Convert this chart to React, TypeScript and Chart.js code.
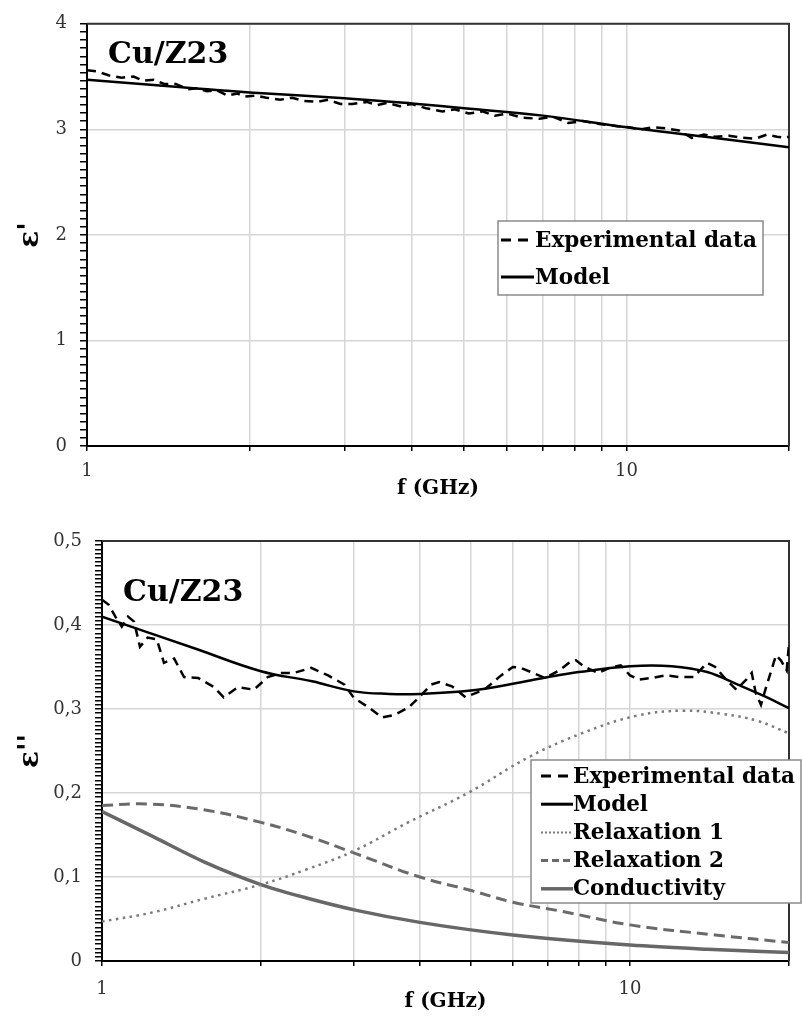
import React, { useEffect, useRef } from 'react';
import { Chart, registerables } from 'chart.js';

Chart.register(...registerables);

// ---------- DATA ----------
const PANEL_LABEL = 'Cu/Z23';
const X_TITLE = 'f (GHz)';
const X_TICK_VALUES = [1, 2, 3, 4, 5, 6, 7, 8, 9, 10, 20];
const X_TICK_LABELS: Record<number, string> = { 1: '1', 10: '10' };

// Top panel: epsilon'
const TOP_Y_LABELS = ['0', '1', '2', '3', '4'];
const TOP_MODEL_F = [1, 1.5, 2, 3, 4, 5, 7, 10, 14, 20];
const TOP_MODEL = [3.47, 3.40, 3.35, 3.295, 3.245, 3.20, 3.13, 3.02, 2.93, 2.83];
const TOP_EXP_F = [1.0, 1.04, 1.1, 1.16, 1.22, 1.27, 1.33, 1.39, 1.46, 1.54, 1.6, 1.67, 1.74, 1.82, 1.9, 1.95,
  2.05, 2.15, 2.28, 2.4, 2.52, 2.67, 2.8, 2.95, 3.1, 3.3, 3.45, 3.6, 3.8, 4.0, 4.25, 4.56, 4.8, 5.1, 5.4, 5.7,
  6.0, 6.4, 6.9, 7.3, 7.8, 8.3, 8.9, 9.6, 10.1, 10.6, 11.2, 11.8, 12.5, 13.2, 13.9, 14.6, 15.5, 16.4, 17.3,
  18.2, 19.0, 19.7, 20];
const TOP_EXP = [3.56, 3.55, 3.51, 3.49, 3.50, 3.46, 3.47, 3.43, 3.43, 3.38, 3.39, 3.36, 3.37, 3.32, 3.34, 3.31,
  3.32, 3.30, 3.28, 3.30, 3.27, 3.26, 3.28, 3.24, 3.24, 3.26, 3.23, 3.25, 3.22, 3.24, 3.20, 3.17, 3.19, 3.15, 3.17, 3.13,
  3.15, 3.11, 3.10, 3.12, 3.06, 3.08, 3.05, 3.03, 3.02, 3.00, 3.02, 3.01, 2.99, 2.92, 2.95, 2.93, 2.94, 2.92, 2.91,
  2.95, 2.93, 2.92, 2.93];

// Bottom panel: epsilon''
const BOT_Y_LABELS = ['0', '0,1', '0,2', '0,3', '0,4', '0,5'];
const BOT_EXP_F = [1.0, 1.03, 1.06, 1.09, 1.12, 1.15, 1.18, 1.22, 1.27, 1.31, 1.37, 1.43, 1.52, 1.63, 1.70, 1.81, 1.94,
  2.06, 2.18, 2.31, 2.49, 2.68, 2.88, 3.0, 3.2, 3.39, 3.58, 3.81, 4.03, 4.2, 4.35, 4.6, 4.88, 5.1, 5.3, 5.7, 6.0,
  6.2, 6.55, 6.9, 7.35, 7.7, 7.9, 8.2, 8.7, 9.15, 9.6, 10.0, 10.4, 11.0, 11.7, 12.4, 13.2, 14.0, 14.5, 15.2, 15.9,
  16.6, 17.0, 17.3, 17.7, 18.1, 18.9, 19.3, 19.8, 20];
const BOT_EXP = [0.43, 0.424, 0.41, 0.398, 0.41, 0.404, 0.374, 0.385, 0.383, 0.355, 0.36, 0.338, 0.337, 0.326, 0.314, 0.326, 0.323,
  0.338, 0.343, 0.343, 0.349, 0.340, 0.329, 0.313, 0.302, 0.290, 0.293, 0.302, 0.317, 0.329, 0.332, 0.327, 0.314, 0.319, 0.323, 0.340, 0.350,
  0.349, 0.343, 0.337, 0.346, 0.356, 0.358, 0.350, 0.343, 0.349, 0.352, 0.340, 0.335, 0.337, 0.340, 0.338, 0.338, 0.355, 0.350, 0.335, 0.323,
  0.335, 0.343, 0.319, 0.305, 0.326, 0.364, 0.358, 0.346, 0.378];
const BOT_MODEL_F = [1, 1.5, 2, 2.5, 3, 3.5, 4, 5, 6, 7, 8, 10, 12, 14, 16, 18, 20];
const BOT_MODEL = [0.41, 0.372, 0.345, 0.333, 0.321, 0.318, 0.318, 0.322, 0.330, 0.338, 0.344, 0.351, 0.351, 0.344, 0.329, 0.315, 0.301];
const BOT_R1_F = [1, 1.25, 1.56, 2, 2.44, 3, 3.8, 4.93, 6.4, 8.1, 10.3, 12.6, 15, 17.4, 20];
const BOT_R1 = [0.047, 0.058, 0.074, 0.091, 0.109, 0.131, 0.165, 0.2, 0.242, 0.271, 0.292, 0.298, 0.294, 0.286, 0.271];
const BOT_R2_F = [1, 1.22, 1.56, 2, 2.44, 3.05, 4, 5, 6, 7.45, 10, 14.5, 20];
const BOT_R2 = [0.185, 0.187, 0.180, 0.165, 0.149, 0.127, 0.100, 0.084, 0.070, 0.059, 0.043, 0.031, 0.022];
const BOT_C_F = [1, 1.25, 1.56, 2, 2.44, 3.05, 4, 6, 10, 14, 20];
const BOT_C = [0.178, 0.148, 0.118, 0.091, 0.075, 0.060, 0.046, 0.031, 0.019, 0.014, 0.010];

// ---------- HELPERS ----------
const SERIF = '"DejaVu Serif", "Liberation Serif", serif';
const pts = (xs: number[], ys: number[]) => xs.map((x, i) => ({ x, y: ys[i] }));

const plotBorder = {
  id: 'plotBorder',
  beforeDatasetsDraw(chart: any) {
    const { ctx, chartArea: a } = chart;
    ctx.save();
    ctx.strokeStyle = '#333';
    ctx.lineWidth = 2;
    ctx.beginPath();
    ctx.moveTo(a.left, a.top);
    ctx.lineTo(a.right, a.top);
    ctx.lineTo(a.right, a.bottom);
    ctx.stroke();
    ctx.restore();
  },
};

const panelLabel = {
  id: 'panelLabel',
  afterDatasetsDraw(chart: any, _a: any, opts: any) {
    const { ctx } = chart;
    ctx.save();
    ctx.font = `bold 30px ${SERIF}`;
    ctx.fillStyle = '#000';
    ctx.textBaseline = 'alphabetic';
    ctx.textAlign = 'left';
    ctx.fillText(opts.text, opts.x, opts.y);
    ctx.restore();
  },
};

const boxLegend = {
  id: 'boxLegend',
  afterDraw(chart: any, _a: any, opts: any) {
    const { ctx } = chart;
    const { x, y, w, h, firstRow, rowH, sampleX, sampleW, textX } = opts;
    ctx.save();
    ctx.fillStyle = '#fff';
    ctx.fillRect(x, y, w, h);
    ctx.strokeStyle = '#8a8a8a';
    ctx.lineWidth = 1.5;
    ctx.strokeRect(x, y, w, h);
    chart.data.datasets.forEach((ds: any, i: number) => {
      const cy = firstRow + i * rowH;
      ctx.strokeStyle = ds.borderColor;
      ctx.lineWidth = ds.legendWidth ?? ds.borderWidth;
      ctx.setLineDash(ds.legendDash ?? []);
      ctx.beginPath();
      ctx.moveTo(sampleX, cy);
      ctx.lineTo(sampleX + sampleW, cy);
      ctx.stroke();
      ctx.setLineDash([]);
      ctx.fillStyle = '#000';
      ctx.font = `bold 21.5px ${SERIF}`;
      ctx.textBaseline = 'middle';
      ctx.textAlign = 'left';
      ctx.fillText(ds.label, textX, cy + 1);
    });
    ctx.restore();
  },
};

function xScale(height: number, labelPad: number, titlePadBottom: number) {
  return {
    type: 'logarithmic',
    min: 1,
    max: 20,
    afterBuildTicks: (s: any) => { s.ticks = X_TICK_VALUES.map((v) => ({ value: v })); },
    afterFit: (s: any) => { s.height = height; },
    ticks: {
      autoSkip: false,
      maxRotation: 0,
      padding: labelPad,
      color: '#333',
      font: { family: SERIF, size: 18 },
      callback: (v: any) => X_TICK_LABELS[Number(v)] ?? '',
    },
    grid: { color: '#d6d6d6', lineWidth: 1.5, tickLength: 5, tickColor: '#000', tickWidth: 1.5 },
    border: { display: true, color: '#000', width: 2 },
    title: {
      display: true, text: X_TITLE, color: '#000',
      font: { family: SERIF, size: 20, weight: 'bold' },
      padding: { top: 0, bottom: titlePadBottom },
    },
  };
}

function yScale(width: number, max: number, perMajor: number, majorStep: number, labels: string[], title: string) {
  const minorStep = majorStep / perMajor;
  const n = Math.round(max / minorStep);
  const isMajor = (v: number) => Math.abs(v / majorStep - Math.round(v / majorStep)) < 1e-6;
  return {
    type: 'linear',
    min: 0,
    max,
    afterBuildTicks: (s: any) => {
      const t = [];
      for (let i = 0; i <= n; i++) t.push({ value: i * minorStep });
      s.ticks = t;
    },
    afterFit: (s: any) => { s.width = width; },
    ticks: {
      autoSkip: false,
      padding: 13,
      color: '#333',
      font: { family: SERIF, size: 18 },
      callback: (v: any) => (isMajor(Number(v)) ? labels[Math.round(Number(v) / majorStep)] : ''),
    },
    grid: {
      color: (c: any) => (c.tick && isMajor(c.tick.value) && c.tick.value > 0 ? '#d6d6d6' : 'rgba(0,0,0,0)'),
      lineWidth: 1.5,
      tickLength: 7,
      tickColor: '#000',
      tickWidth: 1.5,
    },
    border: { display: true, color: '#000', width: 2 },
    title: {
      display: true, text: title, color: '#000',
      font: { family: SERIF, size: 28, weight: 'bold' },
      padding: { top: 14, bottom: 0 },
    },
  };
}

function topConfig(): any {
  return {
    type: 'line',
    data: {
      datasets: [
        { label: 'Experimental data', data: pts(TOP_EXP_F, TOP_EXP), borderColor: '#000', borderWidth: 2.5,
          borderDash: [9, 6], tension: 0, pointRadius: 0, legendDash: [10, 7], legendWidth: 3 },
        { label: 'Model', data: pts(TOP_MODEL_F, TOP_MODEL), borderColor: '#000', borderWidth: 2.5,
          tension: 0.4, pointRadius: 0, legendWidth: 3 },
      ],
    },
    options: {
      animation: false,
      responsive: false,
      events: [],
      layout: { padding: { top: 21, right: 13, left: 0, bottom: 0 } },
      scales: {
        x: xScale(64, 10, 9),
        y: yScale(87, 4, 13, 1, TOP_Y_LABELS, "ε'"),
      },
      plugins: {
        legend: { display: false },
        tooltip: { enabled: false },
        panelLabel: { text: PANEL_LABEL, x: 108, y: 63 },
        boxLegend: { x: 498, y: 221, w: 265, h: 74, firstRow: 240, rowH: 37, sampleX: 501, sampleW: 33, textX: 535 },
      },
    },
    plugins: [plotBorder, panelLabel, boxLegend],
  };
}

function bottomConfig(): any {
  return {
    type: 'line',
    data: {
      datasets: [
        { label: 'Experimental data', data: pts(BOT_EXP_F, BOT_EXP), borderColor: '#000', borderWidth: 2.5,
          borderDash: [9, 6], tension: 0, pointRadius: 0, legendDash: [10, 7], legendWidth: 3 },
        { label: 'Model', data: pts(BOT_MODEL_F, BOT_MODEL), borderColor: '#000', borderWidth: 2.5,
          tension: 0.4, pointRadius: 0, legendWidth: 3 },
        { label: 'Relaxation 1', data: pts(BOT_R1_F, BOT_R1), borderColor: '#7a7a7a', borderWidth: 2.5,
          borderDash: [2.5, 4.5], tension: 0.4, pointRadius: 0, legendDash: [2, 2], legendWidth: 2 },
        { label: 'Relaxation 2', data: pts(BOT_R2_F, BOT_R2), borderColor: '#6a6a6a', borderWidth: 3,
          borderDash: [11, 6], tension: 0.4, pointRadius: 0, legendDash: [7, 4], legendWidth: 3 },
        { label: 'Conductivity', data: pts(BOT_C_F, BOT_C), borderColor: '#676767', borderWidth: 3.5,
          cubicInterpolationMode: 'monotone', pointRadius: 0, legendWidth: 3.5 },
      ],
    },
    options: {
      animation: false,
      responsive: false,
      events: [],
      layout: { padding: { top: 31, right: 13, left: 0, bottom: 0 } },
      scales: {
        x: xScale(57, 13, 4),
        y: yScale(102, 0.5, 20, 0.1, BOT_Y_LABELS, "ε''"),
      },
      plugins: {
        legend: { display: false },
        tooltip: { enabled: false },
        panelLabel: { text: PANEL_LABEL, x: 123, y: 91 },
        boxLegend: { x: 531, y: 250, w: 270, h: 143, firstRow: 266, rowH: 28.2, sampleX: 541, sampleW: 32, textX: 573 },
      },
    },
    plugins: [plotBorder, panelLabel, boxLegend],
  };
}

function ChartCanvas({ width, height, make }: { width: number; height: number; make: () => any }) {
  const ref = useRef<HTMLCanvasElement>(null);
  useEffect(() => {
    if (!ref.current) return;
    const chart = new Chart(ref.current, make());
    return () => chart.destroy();
  }, []);
  return <canvas ref={ref} width={width} height={height} style={{ display: 'block', width, height }} />;
}

export default function App() {
  return (
    <div style={{ position: 'absolute', left: 0, top: 0, width: 802, height: 1018, background: '#fff', overflow: 'hidden' }}>
      <ChartCanvas width={802} height={510} make={topConfig} />
      <ChartCanvas width={802} height={508} make={bottomConfig} />
    </div>
  );
}
